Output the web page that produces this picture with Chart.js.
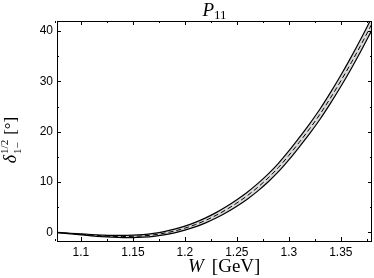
<!DOCTYPE html>
<html>
<head>
<meta charset="utf-8">
<script src="https://cdn.jsdelivr.net/npm/chart.js@4/dist/chart.umd.min.js"></script>
<style>
  html, body { margin: 0; padding: 0; background: white; }
  #wrap { width: 374px; height: 278px; }
</style>
</head>
<body>
<div id="wrap"><canvas id="myChart" width="374" height="278"></canvas></div>
<script>
// Energy grid (GeV)
var energies = [1.077, 1.09, 1.10, 1.11, 1.12, 1.13, 1.14, 1.15, 1.16, 1.17, 1.18, 1.19, 1.20, 1.21, 1.22, 1.23,
                1.24, 1.25, 1.26, 1.27, 1.28, 1.29, 1.30, 1.31, 1.32, 1.33, 1.34, 1.35, 1.36, 1.37, 1.38]

// Central phase shift (degrees), dashed line
var centralValues = [0.00, -0.22, -0.38, -0.54, -0.67, -0.76, -0.80, -0.78, -0.68, -0.48, -0.16, 0.28, 0.85, 1.55, 2.40, 3.40,
                     4.55, 5.85, 7.30, 8.95, 10.8, 12.9, 15.3, 17.9, 20.6, 23.5, 26.7, 30.1, 33.7, 37.5, 41.5]

// Error band edges (solid lines)
var lowerValues = [-0.02, -0.28, -0.48, -0.67, -0.83, -0.94, -1.01, -1.02, -0.94, -0.78, -0.49, -0.09, 0.45, 1.10, 1.90, 2.86,
                   3.96, 5.21, 6.61, 8.21, 10.02, 12.07, 14.42, 16.97, 19.62, 22.48, 25.63, 28.98, 32.53, 36.28, 40.24]
var upperValues = [0.02, -0.16, -0.28, -0.41, -0.51, -0.58, -0.59, -0.54, -0.42, -0.18, 0.17, 0.65, 1.25, 2.00, 2.90, 3.94,
                   5.14, 6.49, 7.99, 9.69, 11.58, 13.73, 16.18, 18.83, 21.58, 24.52, 27.77, 31.22, 34.87, 38.72, 42.76]

// Ticks
var xTickLabels = [1.1, 1.15, 1.2, 1.25, 1.3, 1.35]
var xMinorTicks = [1.075, 1.125, 1.175, 1.225, 1.275, 1.325, 1.375]
var yTickLabels = [0, 10, 20, 30, 40]
var yMinorTicks = [5, 15, 25, 35]

function toPoints(values) {
    return energies.map(function (w, i) { return { x: w, y: values[i] } })
}

// Inner tick marks on all four sides plus the frame
var frameTicks = {
    id: 'frameTicks',
    afterDraw: function (chart) {
        var c = chart.ctx
        var a = chart.chartArea
        var xs = chart.scales.x
        var ys = chart.scales.y
        c.save()
        c.strokeStyle = '#000'
        c.lineWidth = 1
        c.beginPath()
        function xt(v, len) {
            var p = Math.round(xs.getPixelForValue(v)) + 0.5
            c.moveTo(p, a.bottom); c.lineTo(p, a.bottom - len)
            c.moveTo(p, a.top); c.lineTo(p, a.top + len)
        }
        function yt(v, len) {
            var p = Math.round(ys.getPixelForValue(v)) + 0.5
            c.moveTo(a.left, p); c.lineTo(a.left + len, p)
            c.moveTo(a.right, p); c.lineTo(a.right - len, p)
        }
        xTickLabels.forEach(function (v) { xt(v, 4) })
        xMinorTicks.forEach(function (v) { xt(v, 2) })
        yTickLabels.forEach(function (v) { yt(v, 4) })
        yMinorTicks.forEach(function (v) { yt(v, 2) })
        c.stroke()
        c.strokeRect(Math.round(a.left) + 0.5, Math.round(a.top) + 0.5,
                     Math.round(a.right - a.left) - 1, Math.round(a.bottom - a.top))
        c.restore()
    }
}

// Title and axis titles with sub/superscripts
var labelText = {
    id: 'labelText',
    afterDraw: function (chart) {
        var c = chart.ctx
        var a = chart.chartArea
        c.save()
        c.fillStyle = '#000'
        c.textBaseline = 'alphabetic'

        // Title P_11
        var mid = (a.left + a.right) / 2
        c.font = 'italic 19px "Liberation Serif"'
        var wP = c.measureText('P').width
        c.font = '13px "Liberation Serif"'
        var w11 = c.measureText('11').width
        var x0 = mid - (wP + w11) / 2
        c.font = 'italic 19px "Liberation Serif"'
        c.fillText('P', x0, 16)
        c.font = '13px "Liberation Serif"'
        c.fillText('11', x0 + wP, 19)

        // X title
        c.font = 'italic 19px "Liberation Serif"'
        var wW = c.measureText('W').width
        var gap = 8
        var xx = 188
        c.fillText('W', xx, 272)
        c.font = '19px "Liberation Serif"'
        c.fillText('[GeV]', xx + wW + gap, 272)

        // Y title, rotated
        c.translate(16, 140)
        c.rotate(-Math.PI / 2)
        c.font = 'italic 18px "Liberation Serif"'
        var wd = c.measureText('δ').width
        c.font = '11px "Liberation Serif"'
        var ws = Math.max(c.measureText('1/2').width, c.measureText('1−').width)
        c.font = '17px "Liberation Serif"'
        var wb = c.measureText('[°]').width
        var total = wd + ws + 6 + wb
        var s = -total / 2
        c.font = 'italic 18px "Liberation Serif"'
        c.fillText('δ', s, 0)
        c.font = '11px "Liberation Serif"'
        c.fillText('1/2', s + wd + 1, -8)
        c.fillText('1−', s + wd + 1, 5)
        c.font = '17px "Liberation Serif"'
        c.fillText('[°]', s + wd + ws + 6, 0)
        c.restore()
    }
}

var ctx = document.getElementById('myChart').getContext('2d')
var config = {
    type: 'line',
    data: {
        datasets: [{
            data: toPoints(lowerValues),
            borderColor: '#000',
            borderWidth: 1.2,
            pointRadius: 0,
            fill: false,
            order: 2
        }, {
            data: toPoints(upperValues),
            borderColor: '#000',
            borderWidth: 1.2,
            pointRadius: 0,
            backgroundColor: '#d9d9d9',
            fill: '-1',
            order: 2
        }, {
            data: toPoints(centralValues),
            borderColor: '#000',
            borderWidth: 1,
            borderDash: [5, 3],
            pointRadius: 0,
            fill: false,
            order: 1
        }]
    },
    options: {
        responsive: false,
        animation: false,
        layout: { padding: { top: 21, right: 2, bottom: 0, left: 0 } },
        elements: { line: { tension: 0.4, cubicInterpolationMode: 'monotone' } },
        plugins: { legend: false, tooltip: { enabled: false } },
        scales: {
            x: {
                type: 'linear',
                min: 1.077,
                max: 1.38,
                afterBuildTicks: function (scale) {
                    scale.ticks = xTickLabels.map(function (v) { return { value: v } })
                },
                afterFit: function (scale) { scale.height = 37 },
                grid: { display: false, drawTicks: false },
                border: { display: false },
                ticks: {
                    color: '#000',
                    padding: 4,
                    maxRotation: 0,
                    autoSkip: false,
                    font: { family: 'Liberation Sans', size: 12 },
                    callback: function (v) { return String(v) }
                }
            },
            y: {
                type: 'linear',
                min: -1.7,
                max: 42,
                afterBuildTicks: function (scale) {
                    scale.ticks = yTickLabels.map(function (v) { return { value: v } })
                },
                afterFit: function (scale) { scale.width = 57 },
                grid: { display: false, drawTicks: false },
                border: { display: false },
                ticks: {
                    color: '#000',
                    padding: 4,
                    autoSkip: false,
                    font: { family: 'Liberation Sans', size: 12 },
                    callback: function (v) { return String(v) }
                }
            }
        }
    },
    plugins: [frameTicks, labelText]
}

var myChart = new Chart(ctx, config)
</script>
</body>
</html>
